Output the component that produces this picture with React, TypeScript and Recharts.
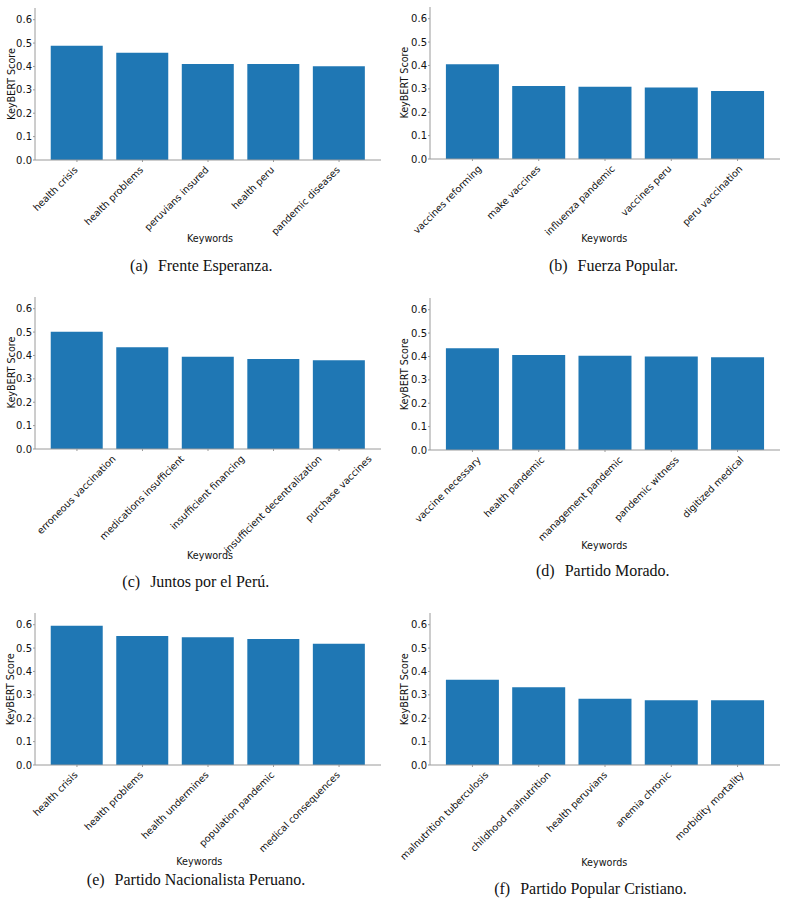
import { BarChart, Bar, XAxis, YAxis } from "recharts";

// Top-5 KeyBERT keywords per party
const frenteKeywords = ["health crisis", "health problems", "peruvians insured", "health peru", "pandemic diseases"];
const frenteScores = [0.489, 0.459, 0.411, 0.41, 0.401];

const fuerzaKeywords = ["vaccines reforming", "make vaccines", "influenza pandemic", "vaccines peru", "peru vaccination"];
const fuerzaScores = [0.405, 0.312, 0.309, 0.306, 0.291];

const juntosKeywords = [
  "erroneous vaccination",
  "medications insufficient",
  "insufficient financing",
  "insufficient decentralization",
  "purchase vaccines",
];
const juntosScores = [0.501, 0.435, 0.395, 0.385, 0.379];

const moradoKeywords = ["vaccine necessary", "health pandemic", "management pandemic", "pandemic witness", "digitized medical"];
const moradoScores = [0.435, 0.406, 0.403, 0.4, 0.397];

const nacionalistaKeywords = ["health crisis", "health problems", "health undermines", "population pandemic", "medical consequences"];
const nacionalistaScores = [0.595, 0.552, 0.546, 0.539, 0.518];

const pcpKeywords = ["malnutrition tuberculosis", "childhood malnutrition", "health peruvians", "anemia chronic", "morbidity mortality"];
const pcpScores = [0.365, 0.332, 0.283, 0.277, 0.277];

const scoreTicks = [0, 0.1, 0.2, 0.3, 0.4, 0.5, 0.6];
const scoreMax = 0.65;

const SANS = '"DejaVu Sans", sans-serif';
const SERIF = '"Liberation Serif", serif';
const INK = "#111";
const FRAME = "#9a9a9a";
const BLUE = "#1f77b4";
const PLOT_H = 152;
const X_AXIS_H = 140;

type Align = "right" | "center";

interface PanelSpec {
  caption: string;
  tag: string;
  keywords: string[];
  scores: number[];
  left: number; // plot frame, page coords
  top: number;
  width: number;
  align: Align;
  shift: number;
  xTitle: [number, number];
  captionAt: [number, number];
}

const panels: PanelSpec[] = [
  {
    tag: "(a)", caption: "Frente Esperanza.", keywords: frenteKeywords, scores: frenteScores,
    left: 35, top: 8, width: 346, align: "right", shift: 3, xTitle: [210, 238.8], captionAt: [201.3, 270.5],
  },
  {
    tag: "(b)", caption: "Fuerza Popular.", keywords: fuerzaKeywords, scores: fuerzaScores,
    left: 430, top: 6.7, width: 350, align: "center", shift: -24.5, xTitle: [604.3, 238.8], captionAt: [613.5, 270.5],
  },
  {
    tag: "(c)", caption: "Juntos por el Perú.", keywords: juntosKeywords, scores: juntosScores,
    left: 35, top: 296.5, width: 346, align: "center", shift: 0, xTitle: [210, 555.8], captionAt: [195.8, 587],
  },
  {
    tag: "(d)", caption: "Partido Morado.", keywords: moradoKeywords, scores: moradoScores,
    left: 430, top: 298.3, width: 350, align: "center", shift: -24, xTitle: [604.3, 545], captionAt: [602.8, 575.7],
  },
  {
    tag: "(e)", caption: "Partido Nacionalista Peruano.", keywords: nacionalistaKeywords, scores: nacionalistaScores,
    left: 35, top: 613.3, width: 346, align: "right", shift: 3, xTitle: [199.3, 861.7], captionAt: [196, 885],
  },
  {
    tag: "(f)", caption: "Partido Popular Cristiano.", keywords: pcpKeywords, scores: pcpScores,
    left: 430, top: 613.3, width: 350, align: "center", shift: -27.5, xTitle: [604.3, 862.8], captionAt: [590.5, 894.3],
  },
];

let measureCtx: CanvasRenderingContext2D | null = null;
function textWidth(s: string, size: number) {
  if (!measureCtx) measureCtx = document.createElement("canvas").getContext("2d");
  if (!measureCtx) return s.length * size * 0.55;
  measureCtx.font = `${size}px "DejaVu Sans"`;
  return measureCtx.measureText(s).width;
}

// 45° keyword label; the rotated box is either right-aligned or centred on the tick
function KeywordTick(props: any) {
  const { x, y, payload, align, shift } = props;
  const fs = 9.6;
  const k = Math.SQRT1_2;
  const asc = 0.76 * fs;
  const desc = 0.24 * fs;
  const X = x + shift;
  const L = textWidth(payload.value, fs);
  const px = align === "right" ? X - k * desc : X + (k / 2) * (L + asc - desc);
  const py = y + 3.4 + k * asc;
  return (
    <text
      x={px}
      y={py}
      transform={`rotate(-45 ${px} ${py})`}
      textAnchor="end"
      fontSize={fs}
      fontFamily={SANS}
      fill={INK}
    >
      {payload.value}
    </text>
  );
}

function KeywordPanel({ p }: { p: PanelSpec }) {
  const data = p.keywords.map((keyword, i) => ({ keyword, score: p.scores[i] }));
  const unit = p.width / 5.28;
  const pad = 0.14 * unit;
  return (
    <div style={{ position: "absolute", left: p.left - 35, top: p.top - 8 }}>
      <BarChart
        width={p.width + 35 + 8}
        height={PLOT_H + 8 + X_AXIS_H}
        data={data}
        margin={{ top: 8, right: 8, left: 5, bottom: 0 }}
        barCategoryGap="10%"
        style={{ overflow: "visible" }}
      >
        <XAxis
          dataKey="keyword"
          interval={0}
          height={X_AXIS_H}
          padding={{ left: pad, right: pad }}
          tickSize={2}
          tickMargin={0}
          tickLine={{ stroke: FRAME }}
          axisLine={{ stroke: FRAME }}
          tick={(t: any) => <KeywordTick {...t} align={p.align} shift={p.shift} />}
        />
        <XAxis
          xAxisId="top"
          orientation="top"
          dataKey="keyword"
          height={0}
          tick={false}
          tickLine={false}
          axisLine={{ stroke: FRAME }}
        />
        <YAxis
          type="number"
          domain={[0, scoreMax]}
          ticks={scoreTicks}
          interval={0}
          width={30}
          tickSize={2}
          tickMargin={1}
          tickLine={{ stroke: FRAME }}
          axisLine={{ stroke: FRAME }}
          tickFormatter={(v: number) => v.toFixed(1)}
          tick={{ fill: INK, fontSize: 10, fontFamily: SANS }}
        />
        <YAxis
          yAxisId="right"
          orientation="right"
          type="number"
          domain={[0, scoreMax]}
          width={0}
          tick={false}
          tickLine={false}
          axisLine={{ stroke: FRAME }}
        />
        <Bar dataKey="score" fill={BLUE} isAnimationActive={false} />
      </BarChart>
    </div>
  );
}

export default function App() {
  return (
    <div
      style={{
        position: "absolute",
        left: 0,
        top: 0,
        width: 787,
        height: 905,
        background: "#fff",
        overflow: "hidden",
      }}
    >
      {panels.map((p) => (
        <KeywordPanel key={p.tag} p={p} />
      ))}
      <svg width={787} height={905} style={{ position: "absolute", left: 0, top: 0, pointerEvents: "none" }}>
        {panels.map((p) => {
          const yx = p.left < 200 ? 11 : 405;
          const yc = p.top + PLOT_H / 2;
          return (
            <g key={p.tag}>
              <text
                x={yx}
                y={yc}
                transform={`rotate(-90 ${yx} ${yc})`}
                textAnchor="middle"
                dominantBaseline="central"
                fontSize={9.6}
                fontFamily={SANS}
                fill={INK}
              >
                KeyBERT Score
              </text>
              <text
                x={p.xTitle[0]}
                y={p.xTitle[1]}
                textAnchor="middle"
                dominantBaseline="central"
                fontSize={9.6}
                fontFamily={SANS}
                fill={INK}
              >
                Keywords
              </text>
              <text
                x={p.captionAt[0]}
                y={p.captionAt[1]}
                textAnchor="middle"
                fontSize={16}
                fontFamily={SERIF}
                fill={INK}
              >
                <tspan>{p.tag}</tspan>
                <tspan dx={10}>{p.caption}</tspan>
              </text>
            </g>
          );
        })}
      </svg>
    </div>
  );
}
